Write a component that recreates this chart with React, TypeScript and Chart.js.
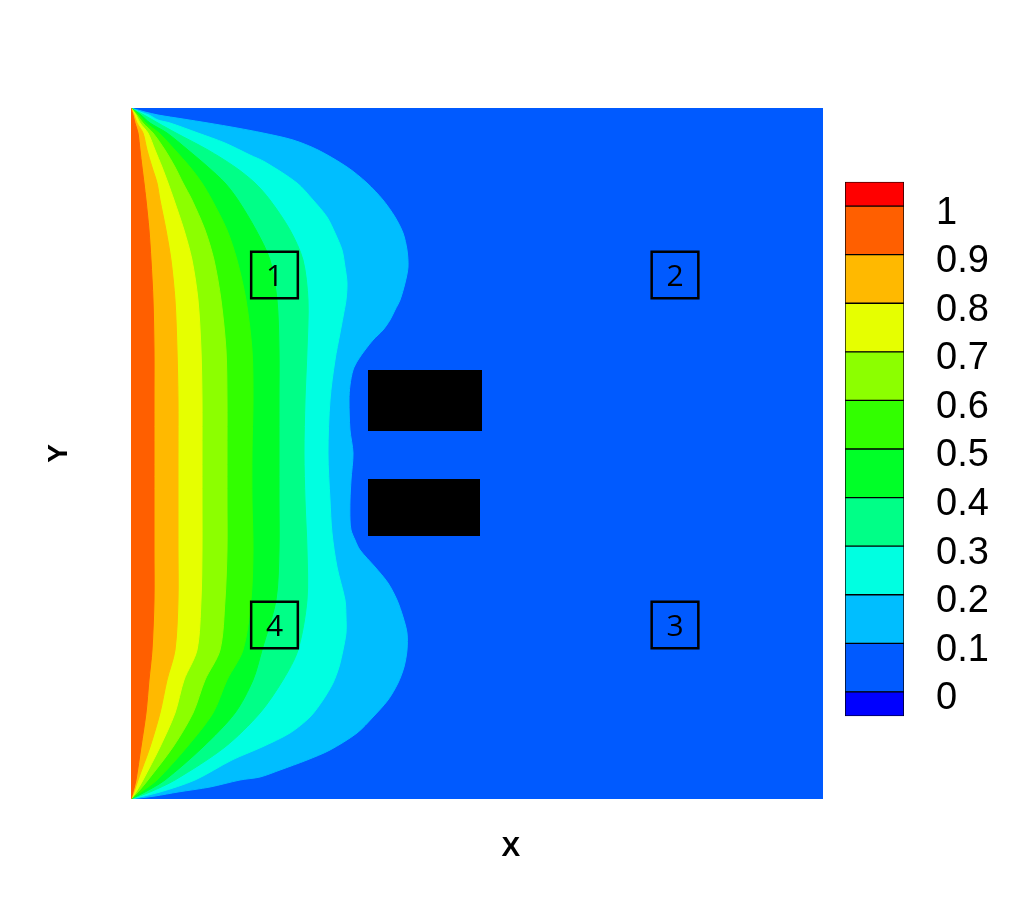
import React, { useEffect, useRef } from "react";
import { Chart, registerables } from "chart.js";

Chart.register(...registerables);

// Domain extent (data units)
const X_MAX = 692;
const Y_MAX = 691;

// Contour levels, from the innermost (highest) to the outermost
const CONTOUR_LEVELS = [0.9, 0.8, 0.7, 0.6, 0.5, 0.4, 0.3, 0.2, 0.1];
const LEVEL_COLORS = ["#FF5F00", "#FFB900", "#E6FF00", "#8CFF00", "#32FF00", "#00FF28", "#00FF87", "#00FFE1", "#00BEFF"];
const BACKGROUND_COLOR = "#005AFF";

// Shared y rows for levels 0.9 .. 0.3
const ROW_Y = [691, 684, 676, 666, 649, 632, 616, 599, 569, 539, 499, 449, 399, 346, 299, 249, 199, 149, 119, 86, 52, 19, 7, 0];
const X_09 = [0, 2, 4, 7, 9, 11, 13, 15, 18, 20, 22, 23, 23, 23, 23, 23, 23, 21, 18, 15, 10, 5, 2, 0];
const X_08 = [0, 3, 6, 12, 16, 21, 26, 29, 35, 40, 44, 46, 47, 47, 47, 47, 47, 44, 36, 29, 19, 7, 3, 0];
const X_07 = [0, 5, 9, 17, 24, 31, 37, 43, 53, 61, 67, 70, 71, 71, 71, 71, 70, 66, 53, 44, 29, 12, 5, 0];
const X_06 = [0, 6, 12, 22, 34, 44, 52, 61, 74, 83, 90, 95, 96, 96, 96, 96, 94, 89, 74, 62, 42, 17, 7, 0];
const X_05 = [0, 8, 15, 28, 44, 59, 71, 81, 96, 106, 115, 121, 122, 121, 121, 122, 120, 112, 96, 82, 56, 26, 10, 0];
const X_04 = [0, 10, 19, 36, 57, 77, 94, 107, 125, 139, 146, 148, 148, 148, 148, 148, 145, 131, 122, 104, 72, 34, 14, 0];
const X_03 = [0, 13, 27, 45, 77, 104, 124, 139, 159, 172, 177, 176, 174, 173, 174, 176, 176, 167, 152, 129, 94, 44, 19, 0];

// Level 0.2
const Y_02 = [691, 687, 684, 679, 676, 666, 656, 644, 637, 616, 599, 582, 566, 549, 532, 516, 499, 482, 466, 439, 399, 346, 299, 266, 232, 199, 182, 166, 149, 132, 116, 99, 82, 66, 52, 39, 19, 7, 0];
const X_02 = [0, 9, 18, 27, 39, 67, 94, 119, 134, 166, 182, 196, 204, 211, 214, 216, 215, 212, 209, 204, 199, 197, 199, 201, 206, 214, 215, 215, 212, 208, 202, 192, 179, 159, 131, 101, 64, 29, 0];

// Level 0.1
const Y_01 = [691, 687, 684, 680, 676, 671, 666, 659, 649, 632, 616, 599, 582, 566, 549, 532, 516, 499, 489, 479, 469, 459, 449, 439, 429, 414, 399, 369, 346, 319, 299, 279, 269, 259, 249, 232, 216, 199, 182, 166, 149, 132, 116, 99, 82, 66, 49, 39, 29, 22, 19, 12, 7, 3, 0];
const X_01 = [0, 14, 27, 52, 77, 106, 132, 162, 187, 216, 236, 252, 264, 272, 276, 277, 274, 269, 264, 259, 252, 242, 234, 227, 222, 219, 218, 219, 222, 220, 219, 219, 220, 224, 229, 244, 257, 266, 272, 276, 276, 273, 267, 257, 242, 226, 199, 176, 149, 129, 109, 79, 47, 24, 0];

const CONTOUR_X = [X_09, X_08, X_07, X_06, X_05, X_04, X_03, X_02, X_01];
const CONTOUR_Y = [ROW_Y, ROW_Y, ROW_Y, ROW_Y, ROW_Y, ROW_Y, ROW_Y, Y_02, Y_01];

// Solid obstacles (extents)
const OBSTACLE_X0 = [237, 237];
const OBSTACLE_X1 = [351, 349];
const OBSTACLE_Y0 = [368, 263];
const OBSTACLE_Y1 = [429, 320];

// Probe positions
const PROBE_LABELS = ["1", "2", "3", "4"];
const PROBE_X = [143.5, 544, 544, 143.5];
const PROBE_Y = [524, 524, 174, 174];

// Colour bar
const CBAR_EDGES = [-0.05, 0, 0.1, 0.2, 0.3, 0.4, 0.5, 0.6, 0.7, 0.8, 0.9, 1.0, 1.05];
const CBAR_COLORS = ["#0000FF", "#005AFF", "#00BEFF", "#00FFE1", "#00FF87", "#00FF28", "#32FF00", "#8CFF00", "#E6FF00", "#FFB900", "#FF5F00", "#FF0000"];
const CBAR_TICKS = [0, 0.1, 0.2, 0.3, 0.4, 0.5, 0.6, 0.7, 0.8, 0.9, 1];

const X_TITLE = "X";
const Y_TITLE = "Y";

export default function App() {
  const mainRef = useRef<HTMLCanvasElement | null>(null);
  const barRef = useRef<HTMLCanvasElement | null>(null);

  useEffect(() => {
    if (!mainRef.current || !barRef.current) return;

    const contourSets = CONTOUR_LEVELS.map((lvl, i) => ({
      label: "level " + lvl,
      data: CONTOUR_X[i].map((x, k) => ({ x, y: CONTOUR_Y[i][k] })),
      showLine: true,
      fill: "shape",
      backgroundColor: LEVEL_COLORS[i],
      borderColor: LEVEL_COLORS[i],
      borderWidth: 1,
      pointRadius: 0,
      pointHoverRadius: 0,
      tension: 0.3,
    }));

    const obstacleSets = OBSTACLE_X0.map((x0, i) => ({
      label: "obstacle " + (i + 1),
      data: [
        { x: x0, y: OBSTACLE_Y0[i] },
        { x: OBSTACLE_X1[i], y: OBSTACLE_Y0[i] },
        { x: OBSTACLE_X1[i], y: OBSTACLE_Y1[i] },
        { x: x0, y: OBSTACLE_Y1[i] },
        { x: x0, y: OBSTACLE_Y0[i] },
      ],
      showLine: true,
      fill: "shape",
      backgroundColor: "#000000",
      borderColor: "#000000",
      borderWidth: 0,
      pointRadius: 0,
      pointHoverRadius: 0,
      tension: 0,
    }));

    const probeSet = {
      label: "probes",
      data: PROBE_X.map((x, k) => ({ x, y: PROBE_Y[k] })),
      showLine: false,
      pointStyle: "rect",
      pointRadius: 33,
      pointHoverRadius: 33,
      pointBorderWidth: 2.5,
      borderWidth: 2.5,
      borderColor: "#000000",
      backgroundColor: "rgba(0,0,0,0)",
    };

    const bgPlugin = {
      id: "bg",
      beforeDatasetsDraw(chart: any) {
        const { ctx, chartArea } = chart;
        ctx.save();
        ctx.fillStyle = BACKGROUND_COLOR;
        ctx.fillRect(chartArea.left, chartArea.top, chartArea.right - chartArea.left, chartArea.bottom - chartArea.top);
        ctx.restore();
      },
    };

    const labelPlugin = {
      id: "probeLabels",
      afterDatasetsDraw(chart: any) {
        const meta = chart.getDatasetMeta(0);
        const ctx = chart.ctx;
        ctx.save();
        ctx.fillStyle = "#000000";
        ctx.font = '30px "Open Sans"';
        ctx.textAlign = "center";
        ctx.textBaseline = "alphabetic";
        meta.data.forEach((pt: any, k: number) => {
          ctx.fillText(PROBE_LABELS[k], pt.x, pt.y + 11);
        });
        ctx.restore();
      },
    };

    const titlePlugin = {
      id: "axisTitles",
      afterDraw(chart: any) {
        const { ctx, chartArea } = chart;
        ctx.save();
        ctx.fillStyle = "#000000";
        ctx.font = 'bold 28px "Liberation Sans"';
        ctx.textAlign = "center";
        ctx.textBaseline = "middle";
        ctx.fillText(X_TITLE, chartArea.left + (chartArea.right - chartArea.left) * 0.549, chartArea.bottom + 49);
        ctx.translate(chartArea.left - 72, (chartArea.top + chartArea.bottom) / 2);
        ctx.rotate(-Math.PI / 2);
        ctx.fillText(Y_TITLE, 0, 0);
        ctx.restore();
      },
    };

    const main = new Chart(mainRef.current, {
      type: "scatter",
      data: { datasets: [probeSet, ...obstacleSets, ...contourSets] as any },
      options: {
        animation: false,
        responsive: false,
        events: [],
        layout: { padding: { left: 131, top: 108, right: 189, bottom: 101 } },
        plugins: { legend: { display: false }, tooltip: { enabled: false } },
        scales: {
          x: { type: "linear", min: 0, max: X_MAX, display: false },
          y: { type: "linear", min: 0, max: Y_MAX, display: false },
        },
      } as any,
      plugins: [bgPlugin, labelPlugin, titlePlugin],
    });

    const bar = new Chart(barRef.current, {
      type: "bar",
      data: {
        labels: [""],
        datasets: CBAR_COLORS.map((c, i) => ({
          label: String(CBAR_EDGES[i]),
          data: [[CBAR_EDGES[i], CBAR_EDGES[i + 1]]],
          backgroundColor: c,
          borderColor: "#000000",
          borderWidth: 1,
          borderSkipped: false,
          barPercentage: 1,
          categoryPercentage: 1,
          grouped: false,
        })) as any,
      },
      options: {
        animation: false,
        responsive: false,
        events: [],
        layout: { padding: { left: 5, top: 0, right: 0, bottom: 0 } },
        plugins: { legend: { display: false }, tooltip: { enabled: false } },
        scales: {
          x: { display: false },
          y: {
            type: "linear",
            position: "right",
            min: CBAR_EDGES[0],
            max: CBAR_EDGES[CBAR_EDGES.length - 1],
            grid: { display: false, drawTicks: false },
            border: { display: false },
            afterBuildTicks: (s: any) => {
              s.ticks = CBAR_TICKS.map((v) => ({ value: v }));
            },
            afterFit: (s: any) => {
              s.width = 108;
            },
            ticks: {
              padding: 32,
              labelOffset: 7,
              color: "#000000",
              font: { family: '"Liberation Sans", Arial, sans-serif', size: 38 },
              callback: (v: any) => String(v),
            },
          },
        },
      } as any,
    });

    return () => {
      main.destroy();
      bar.destroy();
    };
  }, []);

  return (
    <div style={{ position: "absolute", left: 0, top: 0, width: 1012, height: 900, background: "#ffffff" }}>
      <canvas ref={mainRef} width={1012} height={900} style={{ position: "absolute", left: 0, top: 0 }} />
      <canvas ref={barRef} width={172} height={644} style={{ position: "absolute", left: 840, top: 127 }} />
    </div>
  );
}
